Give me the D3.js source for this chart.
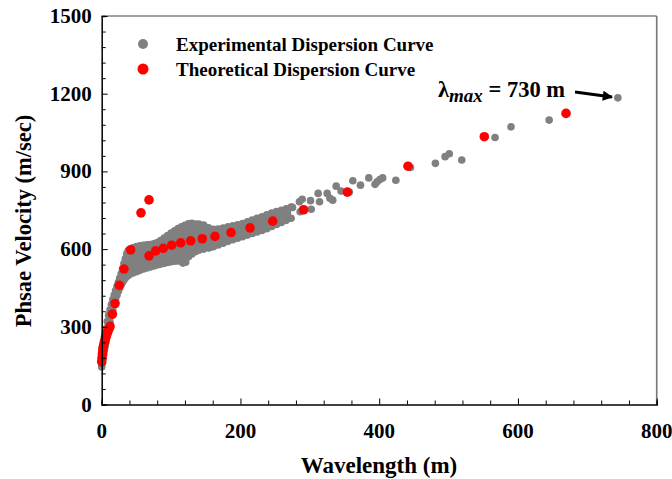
<!DOCTYPE html>
<html>
<head>
<meta charset="utf-8">
<script src="https://cdn.jsdelivr.net/npm/d3@7"></script>
<style>
  html, body { margin: 0; padding: 0; background: #fff; }
  svg { display: block; }
  text { font-family: "Liberation Serif", "Times New Roman", serif; font-weight: bold; }
</style>
</head>
<body>
<svg id="chart" width="672" height="479"></svg>
<script>
// ---------- DATA ----------
// Experimental dispersion curve: dense band (lower / upper envelope of the point cloud)
const expLambda = [0,1,2,3,4,5,6,8,10,12,14,16,18,20,22,24,26,28,30,32,34,36,38,40,
  45,50,55,60,65,70,75,80,85,90,95,100,105,110,115,120,125,130,135,140,
  147,154,161,168,175,182,189,196,203,210,217,224,231,238,245,252,259,266,273];
const expLower = [145,160,178,195,210,225,240,265,292,318,342,365,386,405,422,437,450,462,472,481,488,494,498,502,
  508,513,518,523,527,531,535,539,542,545,548,551,553,554,556,560,570,581,590,596,
  600,604,609,616,623,630,636,642,648,654,660,666,672,679,687,695,703,711,719];
const expUpper = [190,205,225,245,262,278,292,320,345,366,386,405,423,440,456,472,488,505,524,544,563,582,593,598,
  605,610,613,615,617,618,620,625,633,643,652,662,671,679,686,692,698,700,697,697,
  693,682,676,677,681,686,690,694,699,705,712,719,725,732,739,745,750,756,762];
// Experimental: isolated points
const expScatter = [[117,546],[121,549],[156,606],[275,761],[285,783],[289,792],[286,744],[301,787],[302,754],
  [312,815],[314,783],[325,815],[329,796],[333,789],[338,843],[345,824],[357,820],[362,864],
  [373,847],[385,875],[394,850],[397,860],[401,869],[405,875],[424,866],[445,915],[481,931],
  [495,957],[501,968],[519,944],[567,1031],[590,1072],[645,1098],[744,1184]];
// Theoretical dispersion curve
const theoLambda = [0,0.5,1,1.5,2,3,4,5,6,7,8,9,10,11,12,15.5,19.2,25.4,32.1,41.8,56.6,68.2,68.2,77.8,
  88.8,100.9,113.9,128.3,145,163.3,186.4,213.8,246.5,291,354,441.5,551.5,669.3];
const theoVelocity = [165,180,195,208,220,232,242,250,260,268,276,283,290,296,302,349,390,460,523,597,740,790,574,593,
  603,615,624,632,640,649,664,682,708,752,820,920,1034,1124];
// Axes
const xTickLabels = [0,200,400,600,800];
const yTickLabels = [0,300,600,900,1200,1500];
const legendLabels = ["Experimental Dispersion Curve","Theoretical Dispersion Curve"];

// ---------- LAYOUT ----------
const W = 672, H = 479;
const m = {left: 101.7, right: 15.3, top: 16, bottom: 74.5};
const svg = d3.select("#chart");
const x = d3.scaleLinear().domain([0,800]).range([m.left, W - m.right]);
const y = d3.scaleLinear().domain([0,1500]).range([H - m.bottom, m.top]);
const GREY = "#808080", RED = "#ff0000";

// frame (top and right)
svg.append("line").attr("x1", x(0)).attr("x2", x(800)).attr("y1", y(1500)).attr("y2", y(1500))
  .attr("stroke", "#444").attr("stroke-width", 1);
svg.append("line").attr("x1", x(800)).attr("x2", x(800)).attr("y1", y(1500)).attr("y2", y(0))
  .attr("stroke", "#777").attr("stroke-width", 1.6);

// experimental band
const band = expLambda.map((l,i) => ({l, lo: expLower[i], hi: expUpper[i]}));
svg.append("path").datum(band)
  .attr("d", d3.area().x(d => x(d.l)).y0(d => y(d.lo)).y1(d => y(d.hi)))
  .attr("fill", GREY);
const gExp = svg.append("g").attr("fill", GREY);
const expPts = band.flatMap(d => [[d.l, d.lo], [d.l, d.hi]]).concat(expScatter);
gExp.selectAll("circle").data(expPts).join("circle")
  .attr("cx", d => x(d[0])).attr("cy", d => y(d[1])).attr("r", 3.8);

// theoretical points
svg.append("g").attr("fill", RED).selectAll("circle")
  .data(theoLambda.map((l,i) => [l, theoVelocity[i]])).join("circle")
  .attr("cx", d => x(d[0])).attr("cy", d => y(d[1])).attr("r", 4.8);

// axes
const xAxis = d3.axisBottom(x).tickValues(d3.range(0, 801, 40)).tickSize(-4).tickFormat(() => "");
const gx = svg.append("g").attr("transform", `translate(0,${y(0)})`).call(xAxis);
gx.selectAll(".tick line").filter(d => d % 200 === 0).attr("y2", -6);
const yAxis = d3.axisLeft(y).tickValues(d3.range(0, 1501, 60)).tickSize(-4).tickFormat(() => "");
const gy = svg.append("g").attr("transform", `translate(${x(0)},0)`).call(yAxis);
gy.selectAll(".tick line").filter(d => d % 300 === 0).attr("x2", 6);
[gx, gy].forEach(g => {
  g.select(".domain").attr("stroke", "#000").attr("stroke-width", 1.5);
  g.selectAll(".tick line").attr("stroke", "#000").attr("stroke-width", 1);
});

// tick labels
svg.append("g").selectAll("text").data(xTickLabels).join("text")
  .attr("x", d => x(d)).attr("y", y(0) + 33).attr("text-anchor", "middle")
  .attr("font-size", 21).text(d => d);
svg.append("g").selectAll("text").data(yTickLabels).join("text")
  .attr("x", x(0) - 10).attr("y", d => y(d) + 7).attr("text-anchor", "end")
  .attr("font-size", 21).text(d => d);

// axis titles
svg.append("text").attr("x", 379).attr("y", 473).attr("text-anchor", "middle")
  .attr("font-size", 23).text("Wavelength (m)");
svg.append("text").attr("transform", `translate(31,${221}) rotate(-90)`).attr("text-anchor", "middle")
  .attr("font-size", 22.5).text("Phsae Velocity (m/sec)");

// legend
const leg = svg.append("g");
[[GREY, 5, 44], [RED, 5.5, 69]].forEach(([c, r, cy], i) => {
  leg.append("circle").attr("cx", 143).attr("cy", cy).attr("r", r).attr("fill", c);
  leg.append("text").attr("x", 176).attr("y", cy + 6.5).attr("font-size", 19).text(legendLabels[i]);
});

// annotation
const ann = svg.append("text").attr("x", 438).attr("y", 97).attr("font-size", 22.5);
ann.append("tspan").text("λ");
ann.append("tspan").attr("font-style", "italic").attr("font-size", 19).attr("dy", 5).text("max");
ann.append("tspan").attr("dy", -5).text(" = 730 m");
svg.append("defs").append("marker").attr("id", "ah").attr("viewBox", "0 0 10 10")
  .attr("refX", 9).attr("refY", 5).attr("markerWidth", 4.2).attr("markerHeight", 3.4)
  .attr("orient", "auto").attr("markerUnits", "strokeWidth")
  .append("path").attr("d", "M0,0 L10,5 L0,10 z").attr("fill", "#000");
svg.append("line").attr("x1", 575).attr("y1", 92).attr("x2", 612).attr("y2", 97)
  .attr("stroke", "#000").attr("stroke-width", 3).attr("marker-end", "url(#ah)");
</script>
</body>
</html>
